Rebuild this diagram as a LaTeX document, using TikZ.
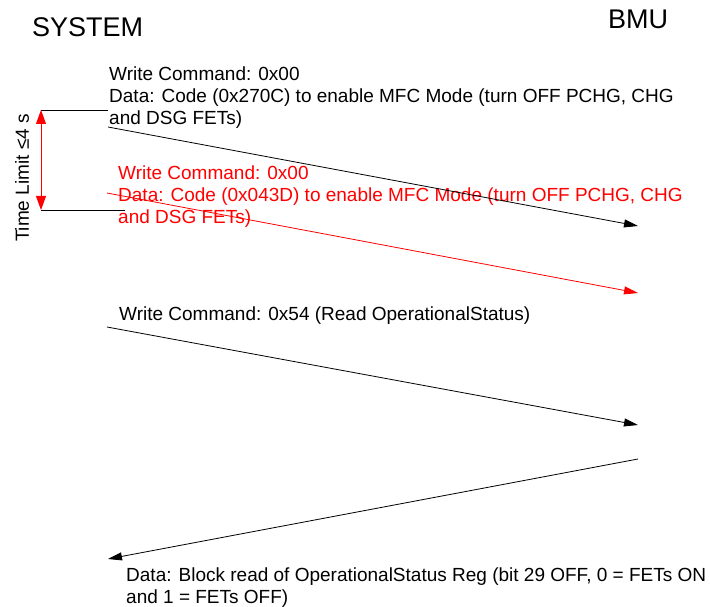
\documentclass[tikz,border=0pt]{standalone}
\usepackage{fontspec}
\setmainfont{Liberation Sans}
\usetikzlibrary{arrows.meta}
\definecolor{alertred}{RGB}{255,0,0}
\begin{document}
\begin{tikzpicture}[x=1pt,y=-1pt,
  lbl/.style={font=\fontsize{19}{22}\selectfont, inner sep=0pt, align=left, anchor=north west},
  ttl/.style={font=\fontsize{27}{32}\selectfont, inner sep=0pt, anchor=base west},
  msg/.style={line width=0.8pt, -{Triangle[length=14pt,width=8pt]}},
  tick/.style={line width=0.8pt},
  limit/.style={line width=0.8pt, alertred, {Triangle[length=14pt,width=10pt]}-{Triangle[length=14pt,width=10pt]}}]
\useasboundingbox (0,0) rectangle (710,607);

% titles
\node[ttl] (sys) at (32,37) {SYSTEM};
\node[ttl] (bmu) at (608,29) {BMU};

% message texts
\node[lbl] (t1) at (109,67) {Write Command: 0x00\\Data: Code (0x270C) to enable MFC Mode (turn OFF PCHG, CHG\\and DSG FETs)};
\node[lbl, text=alertred] (t2) at (118,166) {Write Command: 0x00\\Data: Code (0x043D) to enable MFC Mode (turn OFF PCHG, CHG\\and DSG FETs)};
\node[lbl] (t3) at (119,307) {Write Command: 0x54 (Read OperationalStatus)};
\node[lbl] (t4) at (126,568) {Data: Block read of OperationalStatus Reg (bit 29 OFF, 0 = FETs ON\\and 1 = FETs OFF)};

% time limit
\node[font=\fontsize{19}{22}\selectfont, inner sep=0pt, rotate=90] (tl) at (22,178) {Time Limit ≤4 s};

% coordinates
\coordinate (lt) at (41,110);
\coordinate (lb) at (41,210);
\coordinate (tt) at (108,110);
\coordinate (tb) at (125,210);
\coordinate (s1) at (108,127);
\coordinate (e1) at (638,226);
\coordinate (s2) at (107,193);
\coordinate (e2) at (638,293);
\coordinate (s3) at (107,327);
\coordinate (e3) at (638,425);
\coordinate (s4) at (638,459);
\coordinate (e4) at (108,559);

% time limit bracket
\draw[tick] (lt) -- (tt);
\draw[tick] (lb) -- (tb);
\draw[limit] (lt) -- (lb);

% messages
\draw[msg] (s1) -- (e1);
\draw[msg, alertred] (s2) -- (e2);
\draw[msg] (s3) -- (e3);
\draw[msg] (s4) -- (e4);
\end{tikzpicture}
\end{document}
